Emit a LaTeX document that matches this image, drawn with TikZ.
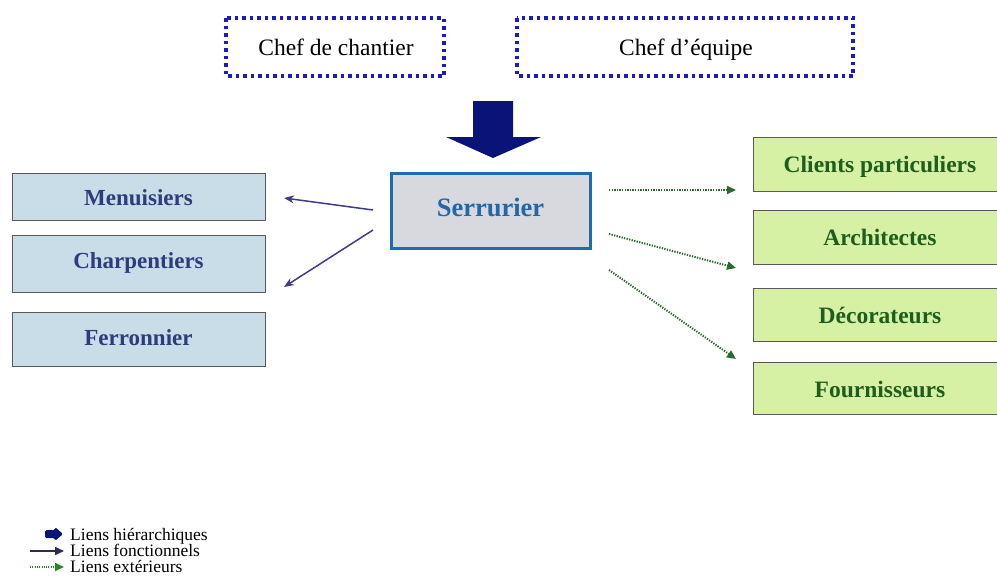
\documentclass[tikz,border=0pt]{standalone}
\usepackage{fontspec}
\setmainfont{Liberation Serif}
\usetikzlibrary{arrows.meta,shapes.arrows}
\definecolor{dotblue}{HTML}{1A1AC8}
\definecolor{navyarrow}{HTML}{0A1478}
\definecolor{serborder}{HTML}{1F6AB0}
\definecolor{serfill}{HTML}{D8D9DE}
\definecolor{sertext}{HTML}{2466A8}
\definecolor{bluefill}{HTML}{C8DDE8}
\definecolor{bluetext}{HTML}{2C3C7C}
\definecolor{greenfill}{HTML}{D6F0A4}
\definecolor{greentext}{HTML}{1D5E1D}
\definecolor{funcline}{HTML}{3E3C86}
\definecolor{extline}{HTML}{2A6A2A}
\tikzset{
  lbl/.style={text height=1.6ex, text depth=0.4ex},
  chefbox/.style={draw=dotblue, line width=4pt, dash pattern=on 3.5pt off 4pt},
  cheftext/.style={lbl, font=\fontsize{23.5}{27}\selectfont},
  leftbox/.style={draw=black!65, fill=bluefill, line width=0.8pt},
  lefttext/.style={lbl, text=bluetext, font=\bfseries\fontsize{23}{27}\selectfont},
  rightbox/.style={draw=black!65, fill=greenfill, line width=0.8pt},
  righttext/.style={lbl, text=greentext, font=\bfseries\fontsize{23.5}{27}\selectfont},
  funcarrow/.style={draw=funcline, line width=1.5pt, -{Stealth[length=10pt,width=8pt]}},
  extarrow/.style={draw=extline, line width=2pt, dash pattern=on 1.3pt off 1.3pt, -{Triangle[length=9pt,width=8pt]}},
  legendtext/.style={font=\fontsize{17.5}{20}\selectfont, anchor=west, inner sep=0pt, text height=9pt, text depth=3pt},
}
\begin{document}
\begin{tikzpicture}[x=1pt,y=-1pt]
\useasboundingbox (0,0) rectangle (997,587);
% top dotted boxes
\draw[chefbox] (226,18) rectangle (444,76);
\node[cheftext] (chantier) at (336,53) {Chef de chantier};
\draw[chefbox] (517,18) rectangle (853,76);
\node[cheftext] (equipe) at (686,53) {Chef d’équipe};
% big hierarchical arrow
\fill[navyarrow] (473,101) -- (513,101) -- (513,137) -- (541,137) -- (493,158) -- (446,137) -- (473,137) -- cycle;
% Serrurier
\draw[draw=serborder, fill=serfill, line width=3pt] (391,173) rectangle (590,248);
\node[lbl, text=sertext, font=\bfseries\fontsize{26.5}{30}\selectfont] (ser) at (490.5,214) {Serrurier};
% left boxes
\draw[leftbox] (12,173) rectangle (265,220);
\node[lefttext] (men) at (138.5,203) {Menuisiers};
\draw[leftbox] (12,235) rectangle (265,292);
\node[lefttext] (cha) at (138.5,266) {Charpentiers};
\draw[leftbox] (12,312) rectangle (265,366);
\node[lefttext] (fer) at (138.5,343) {Ferronnier};
% right boxes
\draw[rightbox] (753,137) rectangle (1000,191);
\node[righttext] (cli) at (880,170) {Clients particuliers};
\draw[rightbox] (753,210) rectangle (1000,264);
\node[righttext] (arc) at (880,243) {Architectes};
\draw[rightbox] (753,288) rectangle (1000,341);
\node[righttext] (dec) at (880,321) {Décorateurs};
\draw[rightbox] (753,362) rectangle (1000,414);
\node[righttext] (fou) at (880,395) {Fournisseurs};
% connectors
\coordinate (s1) at (373,210);
\coordinate (s2) at (373,230);
\coordinate (m1) at (284,198);
\coordinate (c1) at (284,287);
\draw[funcarrow] (s1) -- (m1);
\draw[funcarrow] (s2) -- (c1);
\coordinate (e1) at (609,190); \coordinate (t1) at (736,190);
\coordinate (e2) at (609,234); \coordinate (t2) at (736,268);
\coordinate (e3) at (609,270); \coordinate (t3) at (736,359);
\draw[extarrow] (e1) -- (t1);
\draw[extarrow] (e2) -- (t2);
\draw[extarrow] (e3) -- (t3);
% legend
\fill[navyarrow, rounded corners=1.5pt] (45,530) -- (55,530) -- (55,527) -- (63,534) -- (55,541) -- (55,538) -- (45,538) -- cycle;
\node[legendtext] (lh) at (70,537) {Liens hiérarchiques};
\coordinate (lf0) at (30,551); \coordinate (lf1) at (64,551);
\draw[draw=funcline!70!black, line width=1.6pt, -{Triangle[length=9pt,width=8pt]}] (lf0) -- (lf1);
\node[legendtext] (lfn) at (70,553) {Liens fonctionnels};
\coordinate (le0) at (30,567); \coordinate (le1) at (64,567);
\draw[draw=extline!80!green, line width=1.6pt, dash pattern=on 1pt off 1.3pt, -{Triangle[length=9pt,width=8pt]}] (le0) -- (le1);
\node[legendtext] (lex) at (70,569) {Liens extérieurs};
\end{tikzpicture}
\end{document}
